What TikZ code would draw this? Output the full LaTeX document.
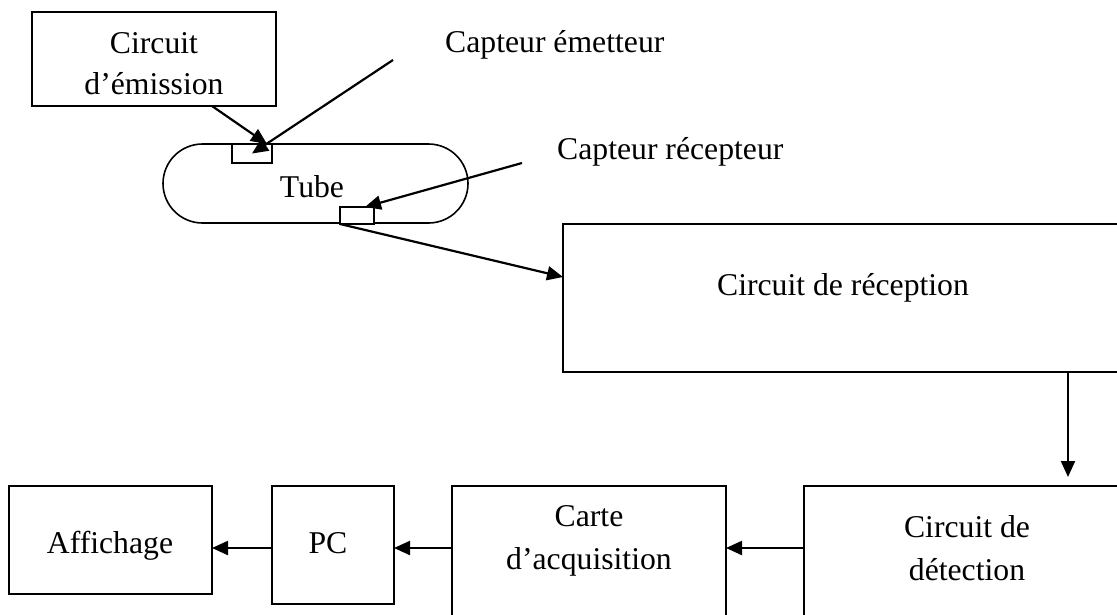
\documentclass[tikz,border=0pt]{standalone}
\usepackage{fontspec}
\setmainfont{Liberation Serif}
\usetikzlibrary{arrows.meta}
\begin{document}
\begin{tikzpicture}[x=1pt,y=-1pt,
  box/.style={draw, line width=1.6pt, inner sep=0pt, outer sep=0pt, fill=white},
  lbl/.style={inner sep=0pt, anchor=base, font=\fontsize{31.7}{38}\selectfont},
  arr/.style={line width=2.2pt, -{Triangle[length=16pt,width=14pt]}}]
\useasboundingbox (0,0) rectangle (1117,614);
\clip (0,0) rectangle (1117,614);
% boxes
\node[box, minimum width=244pt, minimum height=94pt] (emis) at (154,59) {};
\node[box, minimum width=305pt, minimum height=79pt, rounded corners=39.5pt] (tube) at (315.5,183.5) {};
\node[box, minimum width=40pt, minimum height=19pt] (esens) at (252,153.5) {};
\node[box, minimum width=34pt, minimum height=17pt] (rsens) at (357,215.5) {};
\node[box, minimum width=560pt, minimum height=148pt] (recep) at (843,298) {};
\node[box, minimum width=203pt, minimum height=108pt] (aff) at (110.5,540) {};
\node[box, minimum width=122pt, minimum height=118pt] (pc) at (333,545) {};
\node[box, minimum width=274pt, minimum height=174pt] (carte) at (589,573) {};
\node[box, minimum width=326pt, minimum height=174pt] (detect) at (967,573) {};
% texts
\node[lbl] (t1a) at (154,53) {Circuit};
\node[lbl] (t1b) at (154,94) {d’émission};
\node[lbl] (t2) at (312,197) {Tube};
\node[lbl, anchor=base west] (t3) at (445,52) {Capteur émetteur};
\node[lbl, anchor=base west] (t4) at (557,159) {Capteur récepteur};
\node[lbl] (t5) at (843,295) {Circuit de réception};
\node[lbl] (t6) at (110,553) {Affichage};
\node[lbl] (t7) at (328,553) {PC};
\node[lbl] (t8a) at (589,526) {Carte};
\node[lbl] (t8b) at (589,569) {d’acquisition};
\node[lbl] (t9a) at (967,537) {Circuit de};
\node[lbl] (t9b) at (967,580) {détection};
% free ends of the leader lines
\coordinate (ce) at (393,60);
\coordinate (cr) at (522,163);
% connectors
\draw[arr] ([xshift=58pt]emis.south) -- ([xshift=-5pt]esens.north east);
\draw[arr] (ce) -- (esens.center);
\draw[arr] (cr) -- ([xshift=-9pt]rsens.north east);
\draw[arr] (rsens.south west) -- ([yshift=-53pt]recep.north west);
\draw[arr, shorten >=9pt] ([xshift=225pt]recep.south) -- ([xshift=225pt]recep.south |- detect.north);
\draw[arr] ([yshift=-62pt]detect.north west) -- ([yshift=-62pt]carte.north east);
\draw[arr] ([yshift=-62pt]carte.north west) -- ([yshift=-62pt]pc.north east);
\draw[arr] ([yshift=-62pt]pc.north west) -- ([yshift=-62pt]aff.north east);
\end{tikzpicture}
\end{document}
